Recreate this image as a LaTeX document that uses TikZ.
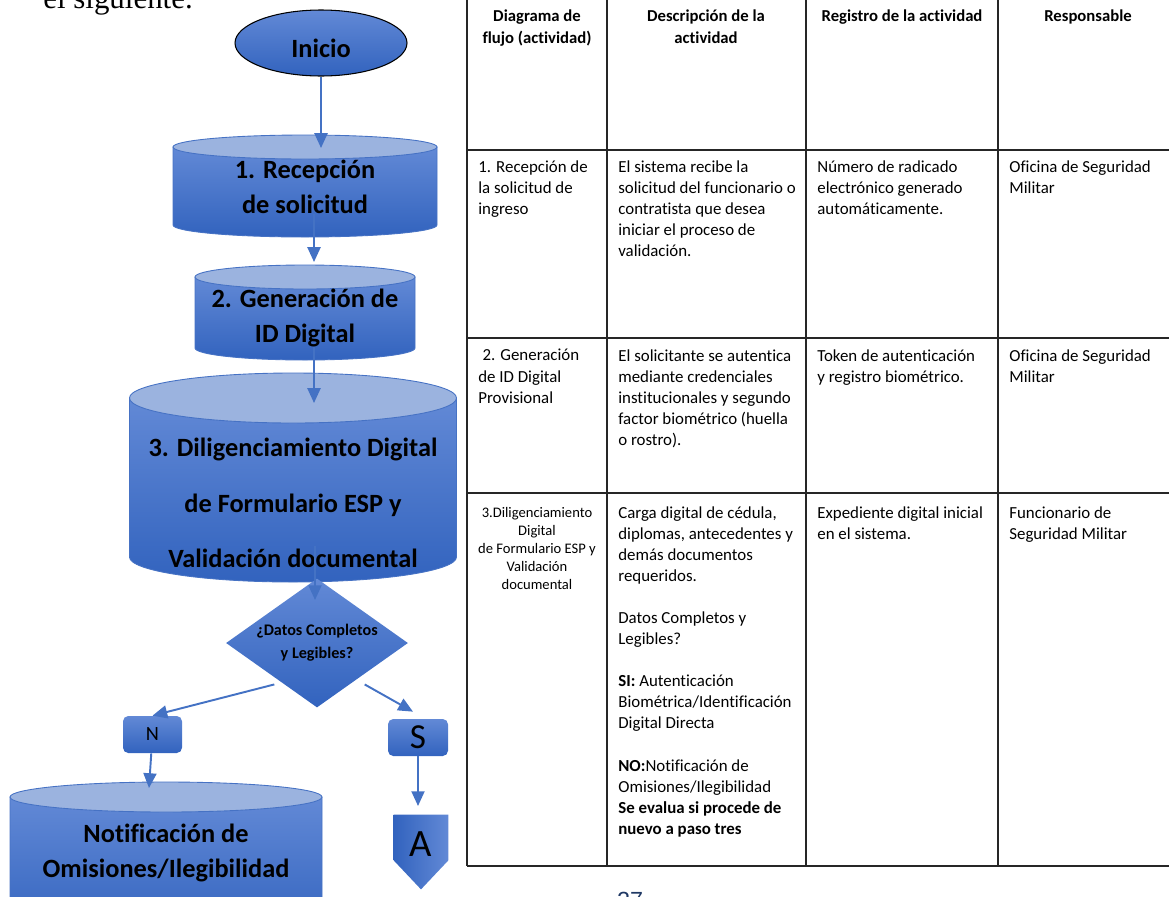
\documentclass[tikz,border=0pt]{standalone}
\usepackage{fontspec}
\setmainfont{Carlito}[Ligatures=NoCommon]
\newfontfamily\pagefont{Liberation Serif}
\newfontfamily\numfont{Liberation Sans}
\usepackage{xcolor}
\usepackage{tikz}
\usetikzlibrary{shapes.geometric,arrows.meta,calc,backgrounds}

\definecolor{flowhi}{RGB}{98,137,214}
\definecolor{flowlo}{RGB}{50,99,190}
\definecolor{drumcap}{RGB}{155,179,223}
\definecolor{drumedge}{RGB}{70,114,196}
\definecolor{flowline}{RGB}{68,114,196}
\definecolor{pagenum}{RGB}{31,56,100}

% one pixel of the page
\newdimen\pxu \pxu=0.02cm

% cylinder behind a node: node, half width, top, bottom, cap radius (pixels)
\newcommand{\drum}[5]{%
  \path[drumbody] ($(#1.center)+(-#2,#3)$) -- ($(#1.center)+(-#2,#4)$)
    arc[start angle=180, end angle=360, x radius=#2\pxu, y radius=#5\pxu]
    -- ($(#1.center)+(#2,#3)$) -- cycle;
  \path[drumtop] ($(#1.center)+(0,#3)$) ellipse[x radius=#2\pxu, y radius=#5\pxu];
}

\begin{document}
\begin{tikzpicture}[
    x=0.02cm, y=-0.02cm,
    flowtext/.style={font=\fontsize{15}{19.6}\selectfont\bfseries, align=center, inner sep=0pt},
    drumbody/.style={top color=flowhi, bottom color=flowlo, draw=drumedge, line width=0.5pt},
    drumtop/.style={fill=drumcap, draw=drumedge, line width=0.5pt},
    letterbox/.style={rectangle, rounded corners=3pt, top color=flowhi, bottom color=flowlo, inner sep=0pt, minimum height=37\pxu},
    flow/.style={-{Triangle[width=7.4pt,length=8.4pt]}, draw=flowline, line width=1.1pt},
    grid/.style={draw=black!85, line width=0.8pt},
    head/.style={font=\fontsize{9.5}{12.5}\selectfont\bfseries, align=center, anchor=north, inner sep=0pt},
    cell/.style={font=\fontsize{9.6}{12}\selectfont, align=left, anchor=north west, inner sep=0pt},
    cellsmall/.style={font=\fontsize{8.3}{10.2}\selectfont, align=center, anchor=north, inner sep=0pt}
]
    \useasboundingbox (0,0) rectangle (1169,896);

    % Page text
    \node[anchor=base west, inner sep=0pt, font=\pagefont\fontsize{17.6}{20}\selectfont] (intro) at (43,8) {el siguiente.};
    \node[anchor=base, inner sep=0pt, text=pagenum, font=\numfont\fontsize{13.3}{15}\selectfont] (pagina) at (630,908) {27};

    % Flowchart
    \node[ellipse, draw=black, line width=0.6pt, top color=flowhi, bottom color=flowlo,
          minimum width=172\pxu, minimum height=66\pxu, inner sep=0pt,
          font=\fontsize{15}{18}\selectfont\bfseries, text height=16.4pt, text depth=0pt] (inicio) at (321,43) {Inicio};
    \node[flowtext] (recepcion) at (305,187) {1. Recepción\\de solicitud};
    \node[flowtext] (generacion) at (305,318) {2. Generación de\\ID Digital};
    \node[flowtext, font=\fontsize{15}{31.7}\selectfont\bfseries] (diligencia) at (293,503) {3. Diligenciamiento Digital\\de Formulario ESP y\\Validación documental};
    \node[diamond, aspect=1.41, minimum width=182\pxu, minimum height=129\pxu, inner sep=0pt,
          top color=flowhi, bottom color=flowlo, align=center,
          font=\fontsize{9.2}{13}\selectfont\bfseries] (datos) at (317,643) {¿Datos Completos\\y Legibles?};
    \node[letterbox, minimum width=59\pxu, font=\fontsize{11.5}{13}\selectfont] (no) at (152.5,734.5) {N};
    \node[letterbox, minimum width=60\pxu, font=\fontsize{20}{22}\selectfont] (si) at (418,737.5) {S};
    \node[flowtext] (notificacion) at (166,853) {Notificación de\\Omisiones/Ilegibilidad};
    \node[rectangle, minimum width=54\pxu, minimum height=45\pxu, inner sep=0pt,
          font=\fontsize{22}{24}\selectfont, text height=21.6pt, text depth=0pt] (conectorA) at (421,837.5) {A};

    \begin{scope}[on background layer]
        \drum{recepcion}{132}{-40}{38}{12}
        \drum{generacion}{110}{-41}{30}{12}
        \drum{diligencia}{163.5}{-105}{54}{25}
        \drum{notificacion}{156}{-56}{70}{15}
        \path[left color=flowlo, right color=flowhi] (conectorA.north west) -- (conectorA.south west)
            -- ([yshift=-29\pxu]conectorA.south) -- (conectorA.south east) -- (conectorA.north east) -- cycle;
    \end{scope}

    % Arrow ends
    \coordinate (recepcion-in) at (321,148);
    \coordinate (generacion-in) at (314,262);
    \coordinate (diligencia-in) at (314,403);
    \coordinate (datos-in) at (315,600);
    \coordinate (notificacion-in) at (149,788);
    \coordinate (a-in) at (418,806);

    % Arrows
    \draw[flow] (inicio) -- (recepcion-in);
    \draw[flow] (generacion-in |- recepcion.south) -- (generacion-in);
    \draw[flow] (diligencia-in |- generacion.south) -- (diligencia-in);
    \draw[flow] ($(datos-in |- diligencia.south)+(0,-22)$) -- (datos-in);
    \draw[flow] ([shift={(3,9)}]datos.south west) -- (no.north);
    \draw[flow] ([shift={(2,9)}]datos.south east) -- ([shift={(-5,-7)}]si.north);
    \draw[flow] (no) -- (notificacion-in);
    \draw[flow] (si) -- (a-in);

    % Table rules
    \draw[grid] (467,150) -- (1169,150);
    \draw[grid] (467,338) -- (1169,338);
    \draw[grid] (467,493) -- (1169,493);
    \draw[grid] (467,866) -- (1169,866);
    \draw[grid] (467,-5) -- (467,866);
    \draw[grid] (607,-5) -- (607,866);
    \draw[grid] (806,-5) -- (806,866);
    \draw[grid] (998,-5) -- (998,866);

    % Header
    \node[head] (hflujo) at (537,9) {Diagrama de\\flujo (actividad)};
    \node[head] (hdesc) at (706,9) {Descripción de la\\actividad};
    \node[head] (hreg) at (902,9) {Registro de la actividad};
    \node[head] (hresp) at (1088,9) {Responsable};

    % Step 1
    \node[cell] (flujo1) at (478,160) {1. Recepción de\\la solicitud de\\ingreso};
    \node[cell] (desc1) at (618,160) {El sistema recibe la\\solicitud del funcionario o\\contratista que desea\\iniciar el proceso de\\validación.};
    \node[cell] (reg1) at (817,160) {Número de radicado\\electrónico generado\\automáticamente.};
    \node[cell] (resp1) at (1009,160) {Oficina de Seguridad\\Militar};

    % Step 2
    \node[cell] (flujo2) at (478,349) {\hspace*{0.25em}2. Generación\\de ID Digital\\Provisional};
    \node[cell] (desc2) at (618,349) {El solicitante se autentica\\mediante credenciales\\institucionales y segundo\\factor biométrico (huella\\o rostro).};
    \node[cell] (reg2) at (817,349) {Token de autenticación\\y registro biométrico.};
    \node[cell] (resp2) at (1009,349) {Oficina de Seguridad\\Militar};

    % Step 3
    \node[cellsmall] (flujo3) at (537,507) {3.Diligenciamiento\\Digital\\de Formulario ESP y\\Validación\\documental};
    \node[cell] (desc3) at (618,506) {Carga digital de cédula,\\diplomas, antecedentes y\\demás documentos\\requeridos.\\[12pt]
        Datos Completos y\\Legibles?\\[12pt]
        \textbf{SI:} Autenticación\\Biométrica/Identificación\\Digital Directa\\[12pt]
        \textbf{NO:}Notificación de\\Omisiones/Ilegibilidad\\\textbf{Se evalua si procede de}\\\textbf{nuevo a paso tres}};
    \node[cell] (reg3) at (817,506) {Expediente digital inicial\\en el sistema.};
    \node[cell] (resp3) at (1009,506) {Funcionario de\\Seguridad Militar};
\end{tikzpicture}
\end{document}
